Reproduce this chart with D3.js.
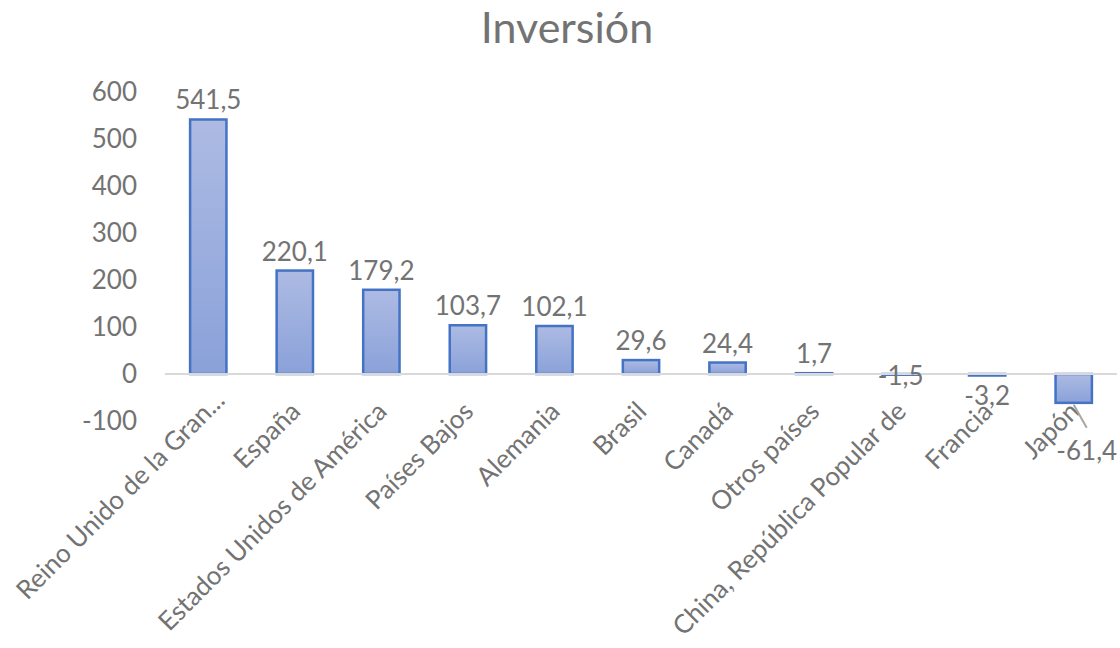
<!DOCTYPE html>
<html>
<head>
<meta charset="utf-8">
<script src="https://cdn.jsdelivr.net/npm/d3@7"></script>
<style>
  html, body { margin: 0; padding: 0; background: #fff; }
  text { font-family: Lato, "Open Sans", sans-serif; fill: #737373; }
</style>
</head>
<body>
<div id="chart"></div>
<script>
const WIDTH = 1120
const HEIGHT = 648

const categories = [
  "Reino Unido de la Gran...",
  "España",
  "Estados Unidos de América",
  "Países Bajos",
  "Alemania",
  "Brasil",
  "Canadá",
  "Otros países",
  "China, República Popular de",
  "Francia",
  "Japón"
]
const values = [541.5, 220.1, 179.2, 103.7, 102.1, 29.6, 24.4, 1.7, -1.5, -3.2, -61.4]
const yTicks = [-100, 0, 100, 200, 300, 400, 500, 600]
const title = "Inversión"

const fmt = v => String(v.toFixed(1)).replace('.', ',')

const svg = d3.select('#chart').append('svg')
  .attr('width', WIDTH)
  .attr('height', HEIGHT)

const defs = svg.append('defs')
const grad = defs.append('linearGradient')
  .attr('id', 'barFill')
  .attr('x1', 0).attr('y1', 0).attr('x2', 0).attr('y2', 1)
grad.append('stop').attr('offset', '0%').attr('stop-color', '#adbbe3')
grad.append('stop').attr('offset', '100%').attr('stop-color', '#8aa1d9')

const x = d3.scaleBand()
  .domain(categories)
  .range([165, 1117])
  .paddingInner(0.58)
  .paddingOuter(0.29)

const y = d3.scaleLinear()
  .domain([-100, 600])
  .range([421, 92])

// title
svg.append('text')
  .attr('x', 567)
  .attr('y', 43)
  .attr('text-anchor', 'middle')
  .style('font-size', '43px')
  .text(title)

// y axis labels (no line, no ticks)
const yAxis = d3.axisLeft(y)
  .tickValues(yTicks)
  .tickFormat(d => String(d))
  .tickSize(0)
  .tickPadding(0)
const yg = svg.append('g')
  .attr('transform', 'translate(137,0)')
  .call(yAxis)
yg.select('.domain').remove()
yg.selectAll('text')
  .style('font-size', '26px')
  .style('font-family', 'Lato, "Open Sans", sans-serif')
  .attr('fill', '#737373')

// bars
svg.selectAll('rect.bar')
  .data(values)
  .join('rect')
  .attr('class', 'bar')
  .attr('x', (d, i) => x(categories[i]))
  .attr('width', x.bandwidth())
  .attr('y', d => y(Math.max(0, d)))
  .attr('height', d => Math.abs(y(d) - y(0)))
  .attr('fill', 'url(#barFill)')
  .attr('stroke', '#4472c4')
  .attr('stroke-width', 2.5)

// zero line
svg.append('line')
  .attr('x1', 165).attr('x2', 1117)
  .attr('y1', y(0)).attr('y2', y(0))
  .attr('stroke', '#d9d9d9')
  .attr('stroke-width', 2)

// category labels, rotated (the truncated first one sits a little higher)
svg.selectAll('text.cat')
  .data(categories)
  .join('text')
  .attr('class', 'cat')
  .attr('text-anchor', 'end')
  .attr('transform', (d, i) => {
    const cx = x(d) + x.bandwidth() / 2
    return i === 0
      ? `translate(${cx + 18},402) rotate(-45)`
      : `translate(${cx + 7},413) rotate(-45)`
  })
  .style('font-size', '26px')
  .text(d => d)

// data labels; a few were moved by hand in the original
const moved = { 8: [0, 11], 10: [13, 86] }
const labelPos = (d, i) => {
  const cx = x(categories[i]) + x.bandwidth() / 2
  if (moved[i]) return [cx + moved[i][0], y(0) + moved[i][1]]
  return d >= 0 ? [cx, y(d) - 10] : [cx, y(d) + 29]
}

svg.selectAll('text.val')
  .data(values)
  .join('text')
  .attr('class', 'val')
  .attr('text-anchor', 'middle')
  .attr('x', (d, i) => labelPos(d, i)[0])
  .attr('y', (d, i) => labelPos(d, i)[1])
  .style('font-size', '26px')
  .text(d => fmt(d))

// leader line for Japón
const jx = x(categories[10]) + x.bandwidth() / 2
svg.append('line')
  .attr('x1', jx).attr('y1', y(values[10]) + 2)
  .attr('x2', jx + 13).attr('y2', y(values[10]) + 25)
  .attr('stroke', '#a6a6a6')
  .attr('stroke-width', 2)
</script>
</body>
</html>
